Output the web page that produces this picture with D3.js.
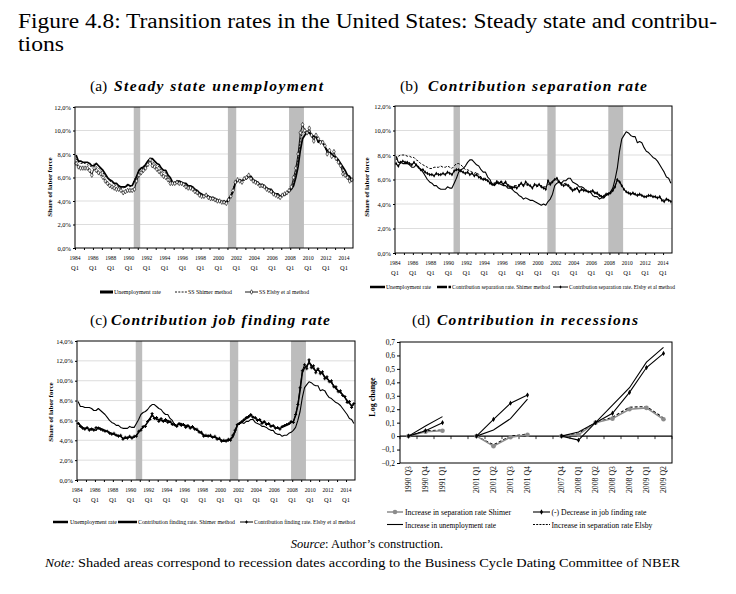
<!DOCTYPE html>
<html><head><meta charset="utf-8">
<script src="https://cdn.jsdelivr.net/npm/d3@7"></script>
<style>
body{margin:0;background:#fff}
svg{display:block}
text{font-family:"Liberation Serif","Times New Roman",serif;fill:#000}
</style>
</head><body>
<svg id="c" width="736" height="594"></svg>
<script>
// ---------- DATA ----------
const years = d3.range(1984, 2015);          // 1984..2014, quarterly observations
const recessions = [[1990.55, 1991.27], [2001.05, 2001.98], [2007.87, 2009.53]];
const yearLabels = d3.range(1984, 2015, 2);

const unemp = [
7.9,7.4,7.4,7.3, 7.3,7.3,7.2,7.0, 7.0,7.2,7.0,6.8, 6.6,6.3,6.0,5.8,
5.7,5.5,5.5,5.3, 5.2,5.2,5.2,5.4, 5.3,5.3,5.7,6.1, 6.6,6.8,6.9,7.1,
7.4,7.6,7.6,7.4, 7.2,7.1,6.8,6.6, 6.6,6.2,6.0,5.6, 5.5,5.7,5.7,5.6,
5.5,5.5,5.3,5.3, 5.2,5.0,4.9,4.7, 4.6,4.4,4.5,4.4, 4.3,4.3,4.2,4.1,
4.0,3.9,4.0,3.9, 4.2,4.4,4.8,5.5, 5.7,5.8,5.7,5.9, 5.9,6.1,6.1,5.8,
5.7,5.6,5.4,5.4, 5.3,5.1,5.0,5.0, 4.7,4.6,4.6,4.4, 4.5,4.5,4.7,4.8,
5.0,5.3,6.0,6.9, 8.3,9.3,9.6,9.9, 9.8,9.6,9.5,9.5, 9.0,9.1,9.0,8.6,
8.3,8.2,8.0,7.8, 7.7,7.5,7.2,6.9, 6.6,6.2,6.1,5.7];

const ssShimer = [
7.6,7.3,7.2,7.2, 7.2,7.1,7.0,6.9, 7.2,6.9,6.8,6.6, 6.4,6.1,5.9,5.7,
5.6,5.4,5.3,5.2, 5.1,5.1,5.2,5.3, 5.2,5.3,5.8,6.2, 6.6,6.7,6.8,7.1,
7.4,7.5,7.3,7.2, 7.0,6.9,6.6,6.4, 6.4,6.0,5.8,5.5, 5.5,5.7,5.6,5.5,
5.5,5.4,5.2,5.2, 5.1,4.9,4.8,4.6, 4.5,4.4,4.5,4.3, 4.3,4.2,4.1,4.0,
4.0,3.9,3.9,3.9, 4.2,4.5,5.0,5.6, 5.8,5.8,5.7,5.9, 6.0,6.2,6.0,5.7,
5.6,5.5,5.4,5.3, 5.2,5.0,5.0,4.9, 4.7,4.6,4.5,4.4, 4.5,4.6,4.7,4.9,
5.1,5.6,6.4,7.6, 9.2,9.9,9.8,9.8, 9.8,9.5,9.3,9.5, 9.2,9.0,9.0,8.6,
8.2,8.2,7.9,7.9, 7.6,7.4,7.1,6.6, 6.3,6.1,5.8,5.7];

const ssElsby = [
7.2,6.9,6.8,6.8, 6.8,6.8,6.6,6.2, 6.8,6.6,6.4,6.3, 6.0,5.7,5.5,5.3,
5.2,5.1,5.0,5.0, 4.9,4.7,4.8,4.9, 4.9,4.9,5.0,5.7, 6.2,6.4,6.6,6.8,
7.1,7.5,7.0,6.9, 6.7,6.5,6.3,6.1, 6.0,5.8,5.5,5.5, 5.5,5.6,5.5,5.5,
5.4,5.2,5.1,5.1, 5.0,4.8,4.7,4.5, 4.4,4.4,4.5,4.3, 4.2,4.2,4.1,4.0,
4.0,3.9,3.9,3.8, 4.1,4.4,4.9,5.6, 5.8,5.7,5.6,5.9, 6.0,6.2,5.9,5.7,
5.6,5.5,5.3,5.3, 5.2,5.0,4.9,4.8, 4.6,4.5,4.4,4.3, 4.5,4.6,4.7,4.9,
5.2,6.0,6.8,8.0, 9.8,10.5,10.0,9.8, 10.2,9.6,9.1,9.6, 9.3,9.0,9.0,8.7,
8.0,8.3,7.8,8.2, 7.6,7.3,7.0,6.3, 6.2,6.0,5.7,5.8];

const sepShimer = [
7.6,7.9,8.0,8.0, 8.0,7.9,7.9,7.8, 7.8,7.6,7.5,7.3, 7.2,7.1,7.0,6.9,
6.9,7.0,7.0,7.0, 7.1,7.0,7.0,7.1, 7.0,6.9,7.1,7.3, 7.3,7.2,7.0,6.8,
6.8,6.7,6.6,6.5, 6.6,6.4,6.2,6.1, 6.1,5.9,5.8,5.7, 5.7,5.9,5.8,5.8,
5.8,5.7,5.6,5.5, 5.4,5.5,5.5,5.6, 5.6,5.5,5.6,5.5, 5.5,5.4,5.5,5.4,
5.5,5.5,5.4,5.4, 5.6,5.7,5.9,6.0, 5.9,5.8,5.7,5.7, 5.6,5.6,5.4,5.2,
5.2,5.2,5.1,5.2, 5.1,5.1,5.0,5.0, 5.0,4.9,4.8,4.7, 4.7,4.7,4.8,4.9,
5.0,5.2,5.5,5.9, 5.9,5.5,5.2,5.0, 4.9,4.9,4.8,4.8, 4.8,4.7,4.7,4.6,
4.6,4.7,4.6,4.6, 4.6,4.5,4.5,4.4, 4.3,4.4,4.3,4.2];

const sepElsby = [
7.3,7.1,7.4,7.5, 7.4,7.4,7.3,7.2, 7.4,7.2,7.0,6.8, 6.8,6.6,6.5,6.4,
6.4,6.3,6.5,6.4, 6.4,6.5,6.4,6.6, 6.5,6.4,6.7,6.8, 6.8,6.7,6.6,6.5,
6.6,6.4,6.5,6.3, 6.4,6.2,6.1,6.0, 6.0,5.9,5.7,5.6, 5.6,5.8,5.7,5.8,
5.6,5.8,5.5,5.4, 5.3,5.4,5.3,5.5, 5.7,5.5,5.8,5.6, 5.5,5.3,5.6,5.5,
5.6,5.4,5.3,5.2, 5.9,5.6,5.8,6.0, 6.1,5.8,5.6,5.5, 5.6,5.5,5.3,5.1,
5.2,5.3,5.0,5.2, 5.1,5.1,5.0,5.0, 5.1,4.9,4.9,4.7, 4.6,4.6,4.8,4.8,
4.9,5.1,5.4,6.0, 5.8,5.5,5.2,5.0, 4.9,4.8,4.9,4.8, 4.7,4.8,4.7,4.6,
4.6,4.7,4.7,4.6, 4.6,4.5,4.6,4.3, 4.2,4.4,4.3,4.2];

const findShimer = [
5.8,5.5,5.3,5.2, 5.2,5.1,5.2,5.1, 5.0,5.3,5.2,5.1, 5.0,4.9,4.8,4.7,
4.6,4.5,4.5,4.4, 4.2,4.2,4.3,4.3, 4.3,4.3,4.5,4.8, 5.1,5.3,5.5,5.8,
6.2,6.5,6.3,6.1, 6.1,6.0,6.0,5.9, 6.0,5.8,5.7,5.5, 5.5,5.6,5.6,5.5,
5.4,5.4,5.3,5.3, 5.2,5.0,4.9,4.7, 4.5,4.4,4.5,4.4, 4.3,4.3,4.2,4.1,
4.0,3.9,4.0,4.0, 4.1,4.3,4.9,5.5, 5.8,5.8,6.0,6.2, 6.3,6.5,6.4,6.2,
6.1,6.0,5.8,5.8, 5.7,5.6,5.5,5.4, 5.3,5.2,5.2,5.3, 5.4,5.5,5.6,5.8,
5.9,6.5,7.5,9.0, 10.8,11.3,11.5,11.8, 11.6,11.2,11.0,11.1, 10.9,10.7,10.4,10.2,
10.0,9.8,9.5,9.2, 9.0,8.8,8.6,8.3, 8.0,7.7,7.5,7.6];

const findElsby = [
5.7,5.4,5.2,5.1, 5.3,5.0,5.1,5.0, 5.3,5.2,5.1,5.0, 4.9,4.9,4.7,4.6,
4.7,4.5,4.4,4.5, 4.1,4.3,4.2,4.4, 4.2,4.4,4.4,4.9, 5.0,5.4,5.4,5.9,
6.1,6.7,6.2,6.3, 5.9,6.2,5.9,6.1, 5.8,5.9,5.6,5.6, 5.4,5.7,5.5,5.6,
5.3,5.5,5.2,5.4, 5.1,5.1,4.8,4.8, 4.4,4.5,4.4,4.5, 4.3,4.4,4.1,4.2,
3.9,4.0,3.9,4.1, 4.0,4.5,5.0,5.6, 5.7,5.9,6.1,6.3, 6.4,6.6,6.3,6.3,
6.0,6.1,5.7,5.9, 5.6,5.7,5.4,5.5, 5.2,5.3,5.1,5.4, 5.5,5.6,5.7,5.9,
5.8,6.6,7.6,9.3, 11.0,11.6,11.2,12.1, 11.3,11.5,10.8,11.2, 10.7,10.9,10.2,10.4,
9.9,10.0,9.4,9.4, 8.9,9.0,8.5,8.4, 7.8,7.9,7.3,7.7];

// Panel (d): recession episodes (blank slots separate the episodes)
const recCats = ["1990 Q3","1990 Q4","1991 Q1","","2001 Q1","2001 Q2","2001 Q3","2001 Q4","",
                 "2007 Q4","2008 Q1","2008 Q2","2008 Q3","2008 Q4","2009 Q1","2009 Q2"];
const dUnemp  = [0, 0.075, 0.145, null, 0, 0.045, 0.13, 0.275, null, 0, 0.03, 0.10, 0.23, 0.36, 0.55, 0.66];
const dFind   = [0, 0.04, 0.10, null, 0, 0.125, 0.245, 0.305, null, 0, -0.03, 0.10, 0.17, 0.325, 0.51, 0.615];
const dSepShi = [0, 0.033, 0.04, null, 0, -0.075, -0.008, 0.01, null, 0, 0.01, 0.10, 0.13, 0.20, 0.21, 0.125];
const dSepEls = [0, 0.04, 0.045, null, 0, -0.065, 0.0, 0.015, null, 0, 0.02, 0.10, 0.14, 0.215, 0.22, 0.135];
const dTicks  = [-0.2,-0.1,0,0.1,0.2,0.3,0.4,0.5,0.6,0.7];

// quarterly positions (mid-quarter)
const qx = [];
years.forEach(yr => { for (let q = 0; q < 4; q++) qx.push(yr + q * 0.25 + 0.125); });

// ---------- DRAW ----------
const svg = d3.select("#c");
svg.append("rect").attr("width", 736).attr("height", 594).attr("fill", "#fff");

const comma1 = d => d3.format(".1f")(d).replace(".", ",");

function marker(g, type, cx, cy) {
  if (type === "diamondHollow") {
    g.append("path").attr("d", d3.symbol(d3.symbolDiamond, 6)()).attr("transform", `translate(${cx},${cy})`)
      .attr("fill", "#fff").attr("stroke", "#000").attr("stroke-width", 0.6);
  } else if (type === "diamondSmall") {
    g.append("path").attr("d", d3.symbol(d3.symbolDiamond, 4)()).attr("transform", `translate(${cx},${cy})`)
      .attr("fill", "#000");
  } else if (type === "plus") {
    g.append("path").attr("d", d3.symbol(d3.symbolCross, 5)()).attr("transform", `translate(${cx},${cy})`)
      .attr("fill", "#000");
  } else if (type === "diamondD") {
    g.append("path").attr("d", d3.symbol(d3.symbolDiamond, 8)()).attr("transform", `translate(${cx},${cy})`)
      .attr("fill", "#000");
  } else if (type === "circleGray") {
    g.append("circle").attr("cx", cx).attr("cy", cy).attr("r", 2.3).attr("fill", "#8c8c8c");
  }
}

function drawTS(p) {
  const x = d3.scaleLinear().domain([1984, 2015]).range([p.left, p.right]);
  const y = d3.scaleLinear().domain([0, p.ymax]).range([p.bottom, p.top]);
  const g = svg.append("g");
  const yt = d3.range(0, p.ymax + 1e-9, 2);

  g.selectAll(".grid").data(yt.slice(1, -1)).join("line")
    .attr("x1", p.left).attr("x2", p.right).attr("y1", d => y(d)).attr("y2", d => y(d))
    .attr("stroke", "#d4d4d4").attr("stroke-width", 0.8);

  g.selectAll(".rec").data(recessions).join("rect")
    .attr("x", d => x(d[0])).attr("width", d => x(d[1]) - x(d[0]))
    .attr("y", p.top).attr("height", p.bottom - p.top).attr("fill", "#bdbdbd");

  p.series.forEach(s => {
    const line = d3.line().x((d, i) => x(qx[i])).y(d => y(d));
    g.append("path").datum(s.data).attr("d", line).attr("fill", "none")
      .attr("stroke", "#000").attr("stroke-width", s.width)
      .attr("stroke-dasharray", s.dash || null).attr("stroke-linejoin", "round");
    if (s.marker) {
      const mg = g.append("g");
      s.data.forEach((d, i) => marker(mg, s.marker, x(qx[i]), y(d)));
    }
  });

  g.append("rect").attr("x", p.left).attr("y", p.top).attr("width", p.right - p.left)
    .attr("height", p.bottom - p.top).attr("fill", "none").attr("stroke", "#000").attr("stroke-width", 1);

  const ya = g.append("g").attr("transform", `translate(${p.left},0)`)
    .call(d3.axisLeft(y).tickValues(yt).tickSize(2).tickPadding(2).tickFormat(d => comma1(d) + "%"));
  ya.select(".domain").remove();
  ya.selectAll("text").attr("font-size", 6.5).attr("font-family", '"Liberation Serif",serif');

  const xa = g.append("g").attr("transform", `translate(0,${p.bottom})`)
    .call(d3.axisBottom(x).tickValues(d3.range(1984, 2015, 1)).tickSize(2).tickFormat(""));
  xa.select(".domain").remove();

  g.selectAll(".yl").data(yearLabels).join("text")
    .attr("x", d => x(d)).attr("y", p.bottom + 12).attr("text-anchor", "middle")
    .attr("font-size", 6.5).attr("textLength", 11).attr("lengthAdjust", "spacingAndGlyphs").text(d => d);
  g.selectAll(".ql").data(yearLabels).join("text")
    .attr("x", d => x(d)).attr("y", p.bottom + 22).attr("text-anchor", "middle")
    .attr("font-size", 6.5).text("Q1");

  g.append("text").attr("transform", `translate(${p.ytx},${p.yty}) rotate(-90)`)
    .attr("text-anchor", "middle").attr("font-size", 7).attr("font-weight", "bold")
    .text("Share of labor force");

  p.legend.forEach(l => {
    const lg = g.append("g");
    lg.append("line").attr("x1", l.x1).attr("x2", l.x2).attr("y1", p.ly).attr("y2", p.ly)
      .attr("stroke", "#000").attr("stroke-width", l.width).attr("stroke-dasharray", l.dash || null);
    if (l.marker) marker(lg, l.marker, (l.x1 + l.x2) / 2, p.ly);
    lg.append("text").attr("x", l.tx).attr("y", p.ly + 2.3).attr("font-size", 6.5)
      .attr("textLength", l.tw).attr("lengthAdjust", "spacingAndGlyphs").text(l.text);
  });

  g.append("text").attr("x", p.t1x).attr("y", p.ty).attr("font-size", 15.5).text(p.tag);
  g.append("text").attr("x", p.t2x).attr("y", p.ty).attr("font-size", 15.5)
    .attr("font-weight", "bold").attr("font-style", "italic")
    .attr("textLength", p.t2w).attr("lengthAdjust", "spacing").text(p.title);
}

// (a)
drawTS({
  left: 75, right: 353, top: 107, bottom: 248, ymax: 12, ytx: 52, yty: 187, ly: 292,
  tag: "(a)", title: "Steady state unemployment", t1x: 90, t2x: 114, t2w: 209, ty: 91,
  series: [
    { data: unemp, width: 1.7 },
    { data: ssShimer, width: 0.9, dash: "2,1.3" },
    { data: ssElsby, width: 0.9, marker: "diamondHollow" }
  ],
  legend: [
    { x1: 100, x2: 113, width: 3, text: "Unemployment rate", tx: 114, tw: 47 },
    { x1: 175, x2: 187, width: 0.9, dash: "2,1.3", text: "SS Shimer method", tx: 188, tw: 44 },
    { x1: 245, x2: 258, width: 0.9, marker: "diamondHollow", text: "SS Elsby et al method", tx: 259, tw: 50 }
  ]
});

// (b)
drawTS({
  left: 395, right: 672, top: 106, bottom: 253, ymax: 12, ytx: 369, yty: 187, ly: 287,
  tag: "(b)", title: "Contribution separation rate", t1x: 400, t2x: 428, t2w: 219, ty: 91,
  series: [
    { data: unemp, width: 1.1 },
    { data: sepShimer, width: 1, dash: "2.5,1.5" },
    { data: sepElsby, width: 1.1, marker: "diamondSmall" }
  ],
  legend: [
    { x1: 370, x2: 385, width: 2.5, text: "Unemployment rate", tx: 386, tw: 45 },
    { x1: 437, x2: 451, width: 2.5, dash: "10,1.5,2,0", text: "Contribution separation rate. Shimer method", tx: 452, tw: 98 },
    { x1: 553, x2: 568, width: 1, marker: "diamondSmall", text: "Contribution separation rate. Elsby et al method", tx: 569, tw: 106 }
  ]
});

// (c)
drawTS({
  left: 77, right: 355, top: 341, bottom: 480, ymax: 14, ytx: 53, yty: 412, ly: 522,
  tag: "(c)", title: "Contribution job finding rate", t1x: 90, t2x: 111, t2w: 219, ty: 325,
  series: [
    { data: unemp, width: 1.1 },
    { data: findShimer, width: 1.5 },
    { data: findElsby, width: 1, marker: "plus" }
  ],
  legend: [
    { x1: 53, x2: 68, width: 2.5, text: "Unemployment rate", tx: 70, tw: 47 },
    { x1: 118, x2: 137, width: 2.5, text: "Contribution finding rate. Shimer method", tx: 138, tw: 97 },
    { x1: 240, x2: 253, width: 1, marker: "plus", text: "Contribution finding rate. Elsby et al method", tx: 254, tw: 101 }
  ]
});

// (d)
(function () {
  const L = 400, R = 672, T = 342, B = 463;
  const x = d3.scaleBand().domain(d3.range(recCats.length)).range([L, R]);
  const y = d3.scaleLinear().domain([-0.2, 0.7]).range([B, T]);
  const cx = i => x(i) + x.bandwidth() / 2;
  const g = svg.append("g");

  g.append("rect").attr("x", L).attr("y", T).attr("width", R - L).attr("height", B - T)
    .attr("fill", "none").attr("stroke", "#000").attr("stroke-width", 1);
  g.append("line").attr("x1", L).attr("x2", R).attr("y1", y(0)).attr("y2", y(0))
    .attr("stroke", "#000").attr("stroke-width", 1.1);
  g.selectAll(".ct").data(d3.range(recCats.length + 1)).join("line")
    .attr("x1", i => L + i * x.step()).attr("x2", i => L + i * x.step())
    .attr("y1", y(0)).attr("y2", y(0) + 3).attr("stroke", "#000").attr("stroke-width", 0.8);

  const ya = g.append("g").attr("transform", `translate(${L},0)`)
    .call(d3.axisLeft(y).tickValues(dTicks).tickSize(3).tickPadding(2)
      .tickFormat(d => Math.abs(d) < 1e-9 ? "0" : comma1(d)));
  ya.select(".domain").remove();
  ya.selectAll("text").attr("font-size", 7.5).attr("font-family", '"Liberation Serif",serif');

  const line = d3.line().defined(d => d !== null).x((d, i) => cx(i)).y(d => y(d));
  const series = [
    { data: dSepEls, color: "#000", width: 1.1, dash: "3,2" },
    { data: dSepShi, color: "#8c8c8c", width: 1.5, marker: "circleGray" },
    { data: dUnemp, color: "#000", width: 1.1 },
    { data: dFind, color: "#000", width: 1.1, marker: "diamondD" }
  ];
  series.forEach(s => {
    g.append("path").datum(s.data).attr("d", line).attr("fill", "none")
      .attr("stroke", s.color).attr("stroke-width", s.width).attr("stroke-dasharray", s.dash || null);
    if (s.marker) {
      const mg = g.append("g");
      s.data.forEach((d, i) => { if (d !== null) marker(mg, s.marker, cx(i), y(d)); });
    }
  });

  g.selectAll(".cl").data(recCats.map((c, i) => ({ c, i })).filter(d => d.c !== "")).join("text")
    .attr("transform", d => `translate(${cx(d.i) + 2.8},${B + 3}) rotate(-90)`)
    .attr("text-anchor", "end").attr("font-size", 7.8).text(d => d.c);

  g.append("text").attr("transform", `translate(375,397) rotate(-90)`)
    .attr("text-anchor", "middle").attr("font-size", 8).attr("font-weight", "bold").text("Log change");

  const leg = [
    { x1: 387, x2: 403, y: 512, color: "#8c8c8c", width: 1.5, marker: "circleGray", text: "Increase  in  separation  rate Shimer", tx: 405, tw: 106 },
    { x1: 533, x2: 550, y: 512, color: "#000", width: 1.1, marker: "diamondD", text: "(-) Decrease  in  job finding rate", tx: 551.5, tw: 95 },
    { x1: 387, x2: 403, y: 524.5, color: "#000", width: 1.1, text: "Increase in unemployment rate", tx: 405, tw: 91 },
    { x1: 533, x2: 550, y: 524.5, color: "#000", width: 1.1, dash: "2,1.2", text: "Increase  in  separation  rate Elsby", tx: 551.5, tw: 101 }
  ];
  leg.forEach(l => {
    g.append("line").attr("x1", l.x1).attr("x2", l.x2).attr("y1", l.y).attr("y2", l.y)
      .attr("stroke", l.color).attr("stroke-width", l.width).attr("stroke-dasharray", l.dash || null);
    if (l.marker) marker(g, l.marker, (l.x1 + l.x2) / 2, l.y);
    g.append("text").attr("x", l.tx).attr("y", l.y + 3).attr("font-size", 8.5)
      .attr("textLength", l.tw).attr("lengthAdjust", "spacingAndGlyphs").text(l.text);
  });

  g.append("text").attr("x", 412).attr("y", 325).attr("font-size", 15.5).text("(d)");
  g.append("text").attr("x", 437).attr("y", 325).attr("font-size", 15.5)
    .attr("font-weight", "bold").attr("font-style", "italic")
    .attr("textLength", 201).attr("lengthAdjust", "spacing").text("Contribution in recessions");
})();

// Figure title and notes
svg.append("text").attr("x", 18).attr("y", 28).attr("font-size", 20.5)
  .attr("textLength", 699).attr("lengthAdjust", "spacingAndGlyphs")
  .text("Figure 4.8: Transition rates in the United States: Steady state and contribu-");
svg.append("text").attr("x", 18).attr("y", 51).attr("font-size", 20.5)
  .attr("textLength", 46).attr("lengthAdjust", "spacingAndGlyphs").text("tions");

const src = svg.append("text").attr("x", 367).attr("y", 548).attr("font-size", 12.5).attr("text-anchor", "middle");
src.append("tspan").attr("font-style", "italic").text("Source");
src.append("tspan").text(": Author’s construction.");

svg.append("text").attr("x", 45).attr("y", 567).attr("font-size", 13.5).attr("font-style", "italic").text("Note:");
svg.append("text").attr("x", 78).attr("y", 567).attr("font-size", 13.5)
  .attr("textLength", 602).attr("lengthAdjust", "spacingAndGlyphs")
  .text("Shaded areas correspond to recession dates according to the Business Cycle Dating Committee of NBER");
</script>
</body></html>
